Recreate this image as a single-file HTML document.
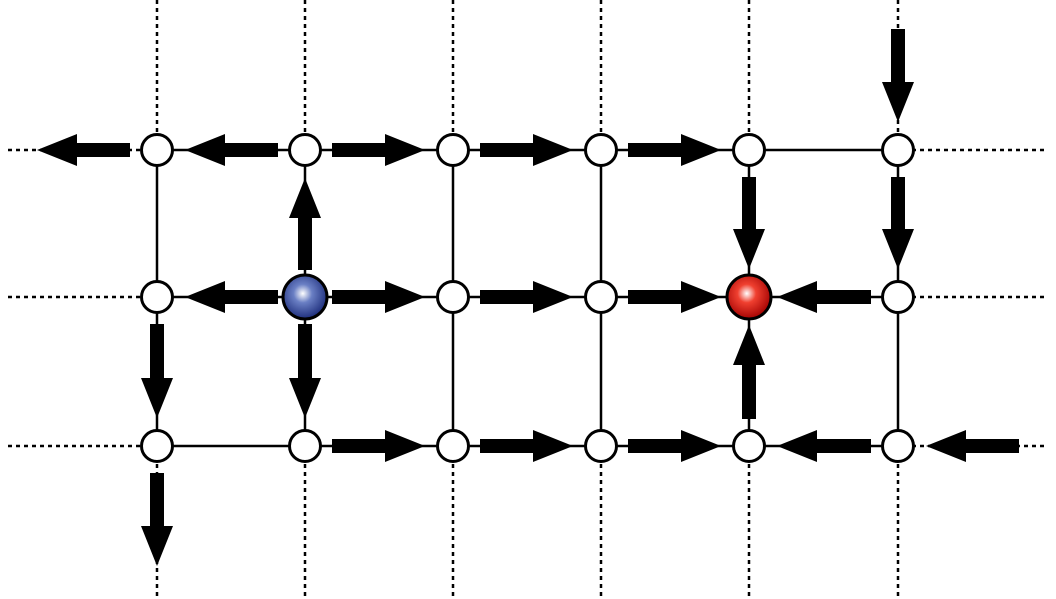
<!DOCTYPE html>
<html><head><meta charset="utf-8"><style>html,body{margin:0;padding:0;background:#fff}svg{display:block}</style></head>
<body>
<svg id="chart" width="1056" height="599" viewBox="0 0 1056 599" xmlns="http://www.w3.org/2000/svg">
<defs>
<radialGradient id="gBlue" cx="0.45" cy="0.42" r="0.6"><stop offset="0" stop-color="#ffffff"/><stop offset="0.35" stop-color="#6a7fc4"/><stop offset="1" stop-color="#1a2a78"/></radialGradient>
<radialGradient id="gRed" cx="0.45" cy="0.42" r="0.6"><stop offset="0" stop-color="#ffffff"/><stop offset="0.35" stop-color="#f04030"/><stop offset="1" stop-color="#a00000"/></radialGradient>
</defs>
<g id="dotted"></g><g id="solid"></g><g id="arrows"></g><g id="nodes"></g>
</svg>
<script>
const cols = [157, 305, 453, 601, 749, 898];
const rows = [150, 297, 446];
// arrows: [fromCol, fromRow, toCol, toRow]; -1 / 6 / 3 mean outside
const arrowsData = [
 [0,0,-1,0],[1,0,0,0],[1,0,2,0],[2,0,3,0],[3,0,4,0],[5,-1,5,0],
 [1,1,1,0],[4,0,4,1],[5,0,5,1],
 [1,1,0,1],[1,1,2,1],[2,1,3,1],[3,1,4,1],[5,1,4,1],
 [0,1,0,2],[1,1,1,2],[4,2,4,1],
 [1,2,2,2],[2,2,3,2],[3,2,4,2],[5,2,4,2],[6,2,5,2],[0,2,0,3]
];
const special = [[1,1,'blue'],[4,1,'red']];
const NS='http://www.w3.org/2000/svg';
function X(c){return c<0?cols[0]-148:(c>5?cols[5]+148:cols[c]);}
function Y(r){return r<0?rows[0]-148:(r>2?rows[2]+148:rows[r]);}
function mk(t,a,p){const e=document.createElementNS(NS,t);for(const k in a)e.setAttribute(k,a[k]);p.appendChild(e);return e;}
const dg=document.getElementById('dotted'),sg=document.getElementById('solid'),ag=document.getElementById('arrows'),ng=document.getElementById('nodes');
cols.forEach(c=>{const l=mk('line',{x1:c,y1:0,x2:c,y2:599,stroke:'#000','stroke-width':2.5,'stroke-dasharray':'4 4'},dg);

});
rows.forEach(r=>{const l=mk('line',{x1:8,y1:r,x2:1048,y2:r,stroke:'#000','stroke-width':2.5,'stroke-dasharray':'4 4'},dg);

});
rows.forEach(r=>{mk('rect',{x:cols[0],y:r-6,width:cols[5]-cols[0],height:12,fill:'#fff'},sg);});
cols.forEach(c=>{mk('rect',{x:c-6,y:rows[0],width:12,height:rows[2]-rows[0],fill:'#fff'},sg);});
rows.forEach(r=>{const l=mk('line',{x1:cols[0],y1:r,x2:cols[5],y2:r,stroke:'#000','stroke-width':2.5},sg);

});
cols.forEach(c=>{const l=mk('line',{x1:c,y1:rows[0],x2:c,y2:rows[2],stroke:'#000','stroke-width':2.5},sg);

});
arrowsData.forEach(a=>{
 const x1=X(a[0]),y1=Y(a[1]),x2=X(a[2]),y2=Y(a[3]);
 const dx=x2-x1,dy=y2-y1,L=Math.hypot(dx,dy),ux=dx/L,uy=dy/L;
 const sx=x1+ux*27,sy=y1+uy*27,tx=x2-ux*28,ty=y2-uy*28;
 const hx=tx-ux*40,hy=ty-uy*40,px=-uy,py=ux;
 const w=7,hw=16;
 const pts=[[sx+px*w,sy+py*w],[hx+px*w,hy+py*w],[hx+px*hw,hy+py*hw],[tx,ty],[hx-px*hw,hy-py*hw],[hx-px*w,hy-py*w],[sx-px*w,sy-py*w]];
 const p=mk('polygon',{points:pts.map(q=>q.join(',')).join(' '),fill:'#000'},ag);
 
 
});
rows.forEach((r,ri)=>cols.forEach((c,ci)=>{
 const s=special.find(q=>q[0]===ci&&q[1]===ri);
 const e=mk('circle',{cx:c,cy:r,r:s?22:15.5,fill:s?(s[2]==='blue'?'url(#gBlue)':'url(#gRed)'):'#fff',stroke:'#000','stroke-width':3},ng);
 
 
}));
</script>
</body></html>
